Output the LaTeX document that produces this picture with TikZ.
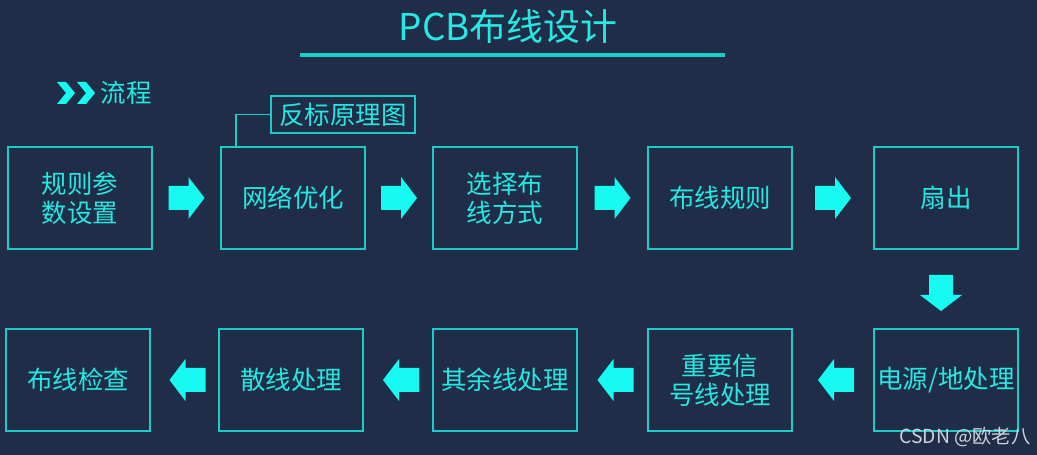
\documentclass[tikz,border=0pt]{standalone}
\usepackage{fontspec}
\setmainfont{Noto Sans CJK SC}
\usetikzlibrary{calc}
\definecolor{bg}{RGB}{32,45,72}
\definecolor{frame}{RGB}{26,205,200}
\definecolor{ink}{RGB}{38,232,226}
\definecolor{flow}{RGB}{22,250,242}
\definecolor{mark}{RGB}{205,210,220}

\tikzset{
  stepbox/.style={draw=frame,line width=0.9pt,minimum width=2.88cm,minimum height=2.04cm,
    align=center,text=ink,inner sep=1pt,font=\fontsize{14.5}{16.5}\selectfont},
  tagbox/.style={draw=frame,line width=0.9pt,minimum width=2.88cm,minimum height=0.74cm,
    text=ink,inner sep=1pt,font=\fontsize{14.5}{16.5}\selectfont},
  blockarrow/.pic={\fill[flow] (-18,-12) -- (2,-12) -- (2,-21) -- (18,0) -- (2,21) -- (2,12) -- (-18,12) -- cycle;}
}

\begin{document}
\begin{tikzpicture}[x=0.02cm,y=-0.02cm]
\fill[bg] (0,0) rectangle (1037,455);
\useasboundingbox (0,0) rectangle (1037,455);
% title
\node[text=ink,font=\fontsize{21}{24}\selectfont] (title) at (508,27) {PCB布线设计};
\draw[frame,line width=2pt] (300,55) -- (725,55);
\foreach \dx in {0,20}
  \fill[flow] (57+\dx,82) -- (66+\dx,82) -- (75+\dx,93) -- (66+\dx,104) -- (57+\dx,104) -- (66+\dx,93) -- cycle;
\node[text=ink,font=\fontsize{14.5}{16.5}\selectfont] (flowlab) at (126,93) {流程};
% steps
\foreach \nm/\xx/\yy/\txt in {
  s1/80/198/{规则参\\数设置},
  s2/293/198/{网络优化},
  s3/505/198/{选择布\\线方式},
  s4/720/198/{布线规则},
  s5/946/198/{扇出},
  s6/946/380/{电源/地处理},
  s7/720/380/{重要信\\号线处理},
  s8/505/380/{其余线处理},
  s9/291/380/{散线处理},
  s10/78/380/{布线检查}}{
  \node[stepbox] (\nm) at (\xx,\yy) {\txt};
}
\node[tagbox] (tag) at (343,114.5) {反标原理图};
\coordinate (tagfoot) at ($(s2.north west)+(16,0)$);
\draw[frame,line width=0.9pt] (tagfoot) |- (tag.west);
% arrows
\foreach \a/\b in {s1/s2,s2/s3,s3/s4,s4/s5}
  \pic at ($(\a.east)!0.5!(\b.west)$) {blockarrow};
\pic[rotate=-90] at ($(s5.south)!0.5!(s6.north)+(-5,4)$) {blockarrow};
\foreach \a/\b in {s6/s7,s7/s8,s8/s9,s9/s10}
  \pic[rotate=180] at ($(\a.west)!0.5!(\b.east)+(3,0)$) {blockarrow};
\node[text=mark,font=\fontsize{11}{13}\selectfont] (wm) at (965,437) {CSDN @欧老八};
\end{tikzpicture}
\end{document}
